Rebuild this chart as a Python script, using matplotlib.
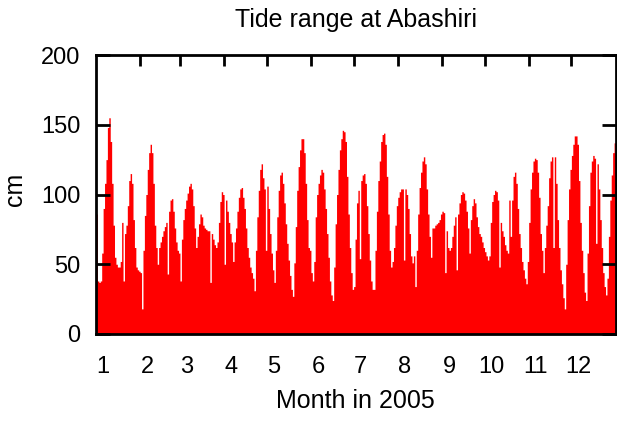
import numpy as np
import matplotlib
matplotlib.use("Agg")
import matplotlib.pyplot as plt
from matplotlib.ticker import FixedLocator

plt.rcParams['font.family'] = ['Liberation Sans', 'DejaVu Sans']

# daily tide range at Abashiri, 2005 (cm), one value per day from Jan 1
tide_range = [
    86, 38, 37, 38, 58, 90, 108, 125, 148, 155,
    138, 108, 78, 55, 50, 48, 48, 52, 80, 38,
    72, 78, 92, 110, 115, 108, 82, 62, 48, 46,
    45, 44, 18, 60, 85, 100, 118, 130, 136, 130,
    108, 78, 62, 50, 62, 66, 70, 74, 77, 80,
    43, 88, 96, 97, 88, 76, 66, 60, 58, 38,
    68, 82, 90, 96, 101, 106, 108, 104, 92, 76,
    62, 70, 79, 86, 84, 78, 76, 75, 74, 74,
    37, 72, 68, 64, 62, 66, 80, 95, 102, 100,
    50, 96, 88, 80, 72, 66, 52, 66, 76, 88,
    98, 104, 105, 98, 90, 76, 62, 55, 48, 44,
    40, 31, 60, 84, 103, 118, 122, 112, 104, 60,
    106, 90, 72, 58, 46, 37, 60, 84, 103, 114,
    116, 108, 94, 79, 65, 53, 42, 32, 27, 51,
    77, 103, 120, 132, 140, 140, 130, 108, 82, 62,
    60, 44, 38, 52, 84, 100, 108, 114, 118, 116,
    104, 90, 72, 55, 38, 28, 24, 48, 79, 100,
    118, 132, 140, 146, 145, 138, 113, 86, 62, 44,
    32, 34, 68, 94, 103, 54, 110, 114, 115, 108,
    92, 72, 53, 38, 32, 32, 60, 88, 110, 124,
    138, 143, 144, 136, 113, 86, 60, 48, 52, 62,
    78, 92, 98, 102, 104, 104, 53, 104, 100, 90,
    72, 56, 51, 56, 34, 60, 86, 105, 116, 124,
    127, 122, 104, 86, 70, 55, 76, 76, 78, 79,
    80, 82, 86, 88, 87, 44, 74, 62, 60, 62,
    70, 78, 84, 46, 86, 94, 100, 102, 101, 96,
    88, 76, 58, 82, 92, 97, 94, 84, 77, 72,
    70, 66, 62, 59, 56, 53, 56, 80, 95, 100,
    103, 102, 96, 48, 80, 74, 70, 64, 60, 58,
    96, 70, 96, 113, 116, 108, 90, 72, 62, 52,
    46, 40, 36, 52, 80, 104, 116, 124, 126, 125,
    116, 98, 72, 60, 44, 62, 78, 92, 112, 124,
    127, 62, 127, 108, 82, 62, 46, 36, 26, 18,
    50, 82, 104, 118, 128, 136, 142, 142, 136, 110,
    80, 60, 44, 30, 24, 58, 92, 116, 124, 128,
    126, 65, 122, 104, 82, 62, 44, 34, 28, 40,
    70, 96, 114, 130, 137,
]

month_lengths = [31, 28, 31, 30, 31, 30, 31, 31, 30, 31, 30, 31]
month_labels = [str(m) for m in range(1, 13)]

month_starts = np.concatenate([[0], np.cumsum(month_lengths)])
days = np.arange(len(tide_range) + 1)
vals = np.append(tide_range, tide_range[-1])

fig = plt.figure(figsize=(6.17, 4.21), dpi=100)
ax = fig.add_axes([96 / 617, 1 - 334 / 421, 519.5 / 617, 279 / 421])

ax.fill_between(days, vals, step='post', color='#ff0000', linewidth=0, zorder=1)

ax.set_xlim(0, 365)
ax.set_ylim(0, 200)

# month numbers sit a few days into each month, tick marks on the month boundaries
ax.xaxis.set_major_locator(FixedLocator(month_starts[:-1] + 5))
ax.set_xticklabels(month_labels)
ax.xaxis.set_minor_locator(FixedLocator(month_starts[1:-1]))
ax.tick_params(axis='x', which='major', length=0, pad=16, labelsize=17)
ax.tick_params(axis='x', which='minor', bottom=False, top=True,
               direction='in', length=8, width=2)

ax.set_yticks([0, 50, 100, 150, 200])
ax.tick_params(axis='y', which='major', left=True, right=True,
               direction='in', length=10, width=2, pad=11, labelsize=17)

for sp in ax.spines.values():
    sp.set_linewidth(2)
    sp.set_zorder(3)

ax.set_title('Tide range at Abashiri', fontsize=18, pad=20)
ax.set_xlabel('Month in 2005', fontsize=18, labelpad=8)
ax.set_ylabel('cm', fontsize=18)
ax.yaxis.set_label_coords(-0.133, 0.52)

fig.savefig('out.png', dpi=100)
